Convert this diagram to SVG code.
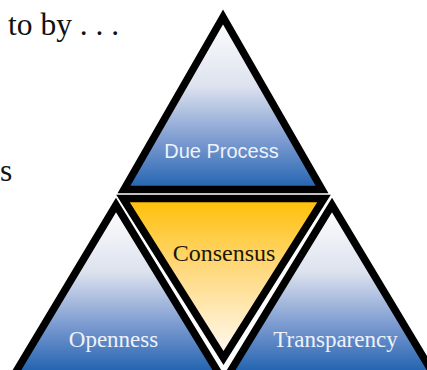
<svg xmlns="http://www.w3.org/2000/svg" width="427" height="370" viewBox="0 0 427 370">
  <defs>
    <linearGradient id="blue" x1="0" y1="0" x2="0" y2="1">
      <stop offset="0" stop-color="#ffffff"/>
      <stop offset="0.4" stop-color="#dde2ee"/>
      <stop offset="0.72" stop-color="#7b9ad0"/>
      <stop offset="1" stop-color="#2163b0"/>
    </linearGradient>
    <linearGradient id="blueLow" gradientUnits="userSpaceOnUse" x1="0" y1="205" x2="0" y2="372">
      <stop offset="0" stop-color="#ffffff"/>
      <stop offset="0.4" stop-color="#dde2ee"/>
      <stop offset="0.72" stop-color="#7b9ad0"/>
      <stop offset="1" stop-color="#2163b0"/>
    </linearGradient>
    <linearGradient id="gold" x1="0" y1="0" x2="0" y2="1">
      <stop offset="0" stop-color="#ffbf05"/>
      <stop offset="0.45" stop-color="#ffd97f"/>
      <stop offset="1" stop-color="#fffbf6"/>
    </linearGradient>
    <style>
      .tri { stroke: #000000; stroke-width: 7.5; stroke-linejoin: miter; stroke-miterlimit: 10; }
      .sans { font-family: "Liberation Sans", Arial, sans-serif; }
      .serif { font-family: "Liberation Serif", "Times New Roman", serif; }
      .light { fill: #eef2fa; }
    </style>
  </defs>
  <rect width="427" height="370" fill="#ffffff"/>

  <g id="caption">
    <text class="serif" x="8" y="35" font-size="31.5" fill="#111111">to by . . .</text>
    <text class="serif" x="0" y="181" font-size="31.5" fill="#111111">s</text>
  </g>

  <g id="node-due-process">
    <polygon class="tri" points="223,17 124,189.5 322,189.5" fill="url(#blue)"/>
    <text class="sans light" x="221.5" y="158" font-size="20" text-anchor="middle">Due Process</text>
  </g>

  <g id="node-consensus">
    <polygon class="tri" points="123,198.5 324,198.5 223.5,358" fill="url(#gold)"/>
    <text class="serif" x="224" y="261" font-size="24" text-anchor="middle" fill="#1e1608">Consensus</text>
  </g>

  <g id="node-openness">
    <polygon class="tri" points="116,205 5,390 229,390" fill="url(#blueLow)"/>
    <text class="serif light" x="113.5" y="347" font-size="23" text-anchor="middle">Openness</text>
  </g>

  <g id="node-transparency">
    <polygon class="tri" points="332,205 219,390 443,390" fill="url(#blueLow)"/>
    <text class="serif light" x="335.5" y="347" font-size="23" text-anchor="middle">Transparency</text>
  </g>
</svg>
